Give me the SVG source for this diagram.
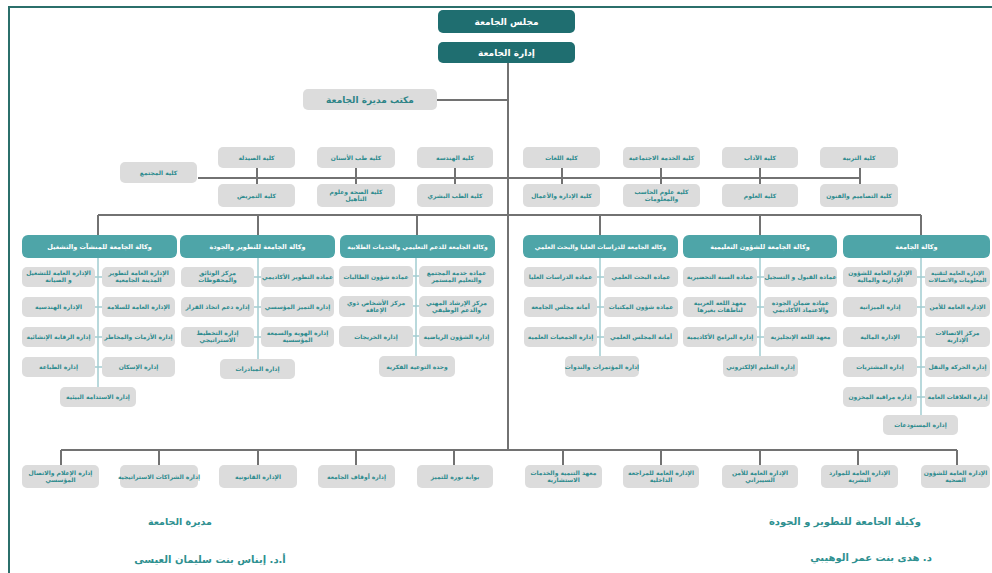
<svg xmlns="http://www.w3.org/2000/svg" width="992" height="573" viewBox="0 0 992 573">
<style>
.g{fill:#dcdcdc}
.h{fill:#4ea5a8}
.d{fill:#1f6e70}
.t{font-family:"DejaVu Sans",sans-serif;font-size:6px;font-weight:bold;fill:#2b8a8d;text-anchor:middle;direction:rtl}
.tw{fill:#ffffff;font-size:6.5px}
.tt{fill:#ffffff;font-size:9px}
.to{font-size:9px;fill:#2d8487}
.sg{font-size:10px;fill:#2e9090}
.ln{stroke:#727272;stroke-width:2;fill:none}
.sb{stroke:#a3cdd1;stroke-width:1.5;fill:none}
.bd{stroke:#2b6f6b;stroke-width:2;fill:none}
</style>
<rect width="992" height="573" fill="#ffffff"/>
<path class="bd" d="M9,573 V7 H992"/>

<g id="connectors">
<path class="ln" d="M508,63 V450 M437,100 H508"/>
<path class="ln" d="M198,178 H860 M860,168 V188 M257,168 V184 M356,168 V184 M455,168 V184 M562,168 V184 M661,168 V184 M760,168 V184"/>
<path class="ln" d="M98,215 H921 M98,215 V235 M258,215 V235 M417,215 V235 M600,215 V235 M760,215 V235 M921,215 V235"/>
<path class="ln" d="M61,450 H957 M61,450 V465 M159,450 V465 M258,450 V465 M356,450 V465 M454,450 V465 M563,450 V465 M661,450 V465 M760,450 V465 M858,450 V465 M957,450 V465"/>
<path class="sb" d="M98,258 V387 M95,277 H102 M95,307 H102 M95,337 H102 M95,367 H102"/>
<path class="sb" d="M258,258 V359 M254,277 H261 M254,307 H261 M254,337 H261"/>
<path class="sb" d="M416,258 V356 M413,276 H419 M413,306 H419 M413,336 H419"/>
<path class="sb" d="M600,258 V356 M597,277 H604 M597,307 H604 M597,337 H604"/>
<path class="sb" d="M760,258 V356 M757,277 H764 M757,307 H764 M757,337 H764"/>
<path class="sb" d="M921,258 V415 M917,277 H925 M917,307 H925 M917,337 H925 M917,367 H925 M917,397 H925"/>
</g>

<g id="council"><rect class="d" x="438" y="10" width="137" height="23" rx="5"/><text class="t tt" x="506.5" y="25">مجلس الجامعة</text></g>
<g id="admin"><rect class="d" x="438" y="42" width="137" height="21" rx="5"/><text class="t tt" x="506.5" y="56">إدارة الجامعة</text></g>
<g id="office"><rect class="g" x="303" y="89" width="134" height="21" rx="5"/><text class="t to" x="370" y="103">مكتب مديرة الجامعة</text></g>

<g id="col-community"><rect class="g" x="120" y="162" width="77" height="21" rx="5"/><text class="t" x="158.5" y="174.5">كلية المجتمع</text></g>
<g id="col-pharmacy"><rect class="g" x="218" y="147" width="77" height="21" rx="5"/><text class="t" x="256.5" y="159.5">كلية الصيدلة</text></g>
<g id="col-dentistry"><rect class="g" x="317" y="147" width="78" height="21" rx="5"/><text class="t" x="356" y="159.5">كلية طب الأسنان</text></g>
<g id="col-engineering"><rect class="g" x="417" y="147" width="76" height="21" rx="5"/><text class="t" x="455" y="159.5">كلية الهندسة</text></g>
<g id="col-nursing"><rect class="g" x="218" y="184" width="77" height="23" rx="5"/><text class="t" x="256.5" y="197.5">كلية التمريض</text></g>
<g id="col-health"><rect class="g" x="317" y="184" width="78" height="23" rx="5"/><text class="t" x="356" y="193.5">كلية الصحة وعلوم<tspan x="356" dy="7.5">التأهيل</tspan></text></g>
<g id="col-medicine"><rect class="g" x="417" y="184" width="76" height="23" rx="5"/><text class="t" x="455" y="197.5">كلية الطب البشري</text></g>
<g id="col-languages"><rect class="g" x="523" y="147" width="77" height="21" rx="5"/><text class="t" x="561.5" y="159.5">كلية اللغات</text></g>
<g id="col-social"><rect class="g" x="623" y="147" width="77" height="21" rx="5"/><text class="t" x="661.5" y="159.5">كلية الخدمة الاجتماعية</text></g>
<g id="col-arts"><rect class="g" x="722" y="147" width="76" height="21" rx="5"/><text class="t" x="760" y="159.5">كلية الآداب</text></g>
<g id="col-education"><rect class="g" x="820" y="147" width="78" height="21" rx="5"/><text class="t" x="859" y="159.5">كلية التربية</text></g>
<g id="col-business"><rect class="g" x="523" y="184" width="77" height="23" rx="5"/><text class="t" x="561.5" y="197.5">كلية الإدارة والأعمال</text></g>
<g id="col-computer"><rect class="g" x="623" y="184" width="77" height="23" rx="5"/><text class="t" x="661.5" y="193.5">كلية علوم الحاسب<tspan x="661.5" dy="7.5">والمعلومات</tspan></text></g>
<g id="col-science"><rect class="g" x="722" y="184" width="76" height="23" rx="5"/><text class="t" x="760" y="197.5">كلية العلوم</text></g>
<g id="col-design"><rect class="g" x="820" y="184" width="78" height="23" rx="5"/><text class="t" x="859" y="197.5">كلية التصاميم والفنون</text></g>

<!-- Agency 1 -->
<g id="ag1"><rect class="h" x="22" y="235" width="155" height="23" rx="6"/><text class="t tw" x="99.5" y="249">وكالة الجامعة للمنشآت والتشغيل</text></g>
<g id="ag1-r1"><rect class="g" x="102" y="267" width="73" height="20" rx="5"/><text class="t" x="138.5" y="275">الإدارة العامة لتطوير<tspan x="138.5" dy="7">المدينة الجامعية</tspan></text></g>
<g id="ag1-l1"><rect class="g" x="22" y="267" width="73" height="20" rx="5"/><text class="t" x="58.5" y="275">الإدارة العامة للتشغيل<tspan x="58.5" dy="7">و الصيانة</tspan></text></g>
<g id="ag1-r2"><rect class="g" x="102" y="297" width="73" height="20" rx="5"/><text class="t" x="138.5" y="309">الإدارة العامة للسلامة</text></g>
<g id="ag1-l2"><rect class="g" x="22" y="297" width="73" height="20" rx="5"/><text class="t" x="58.5" y="309">الإدارة الهندسية</text></g>
<g id="ag1-r3"><rect class="g" x="102" y="327" width="73" height="20" rx="5"/><text class="t" x="138.5" y="339">إدارة الأزمات والمخاطر</text></g>
<g id="ag1-l3"><rect class="g" x="22" y="327" width="73" height="20" rx="5"/><text class="t" x="58.5" y="339">إدارة الرقابة الإنشائية</text></g>
<g id="ag1-r4"><rect class="g" x="102" y="357" width="73" height="20" rx="5"/><text class="t" x="138.5" y="369">إدارة الإسكان</text></g>
<g id="ag1-l4"><rect class="g" x="22" y="357" width="73" height="20" rx="5"/><text class="t" x="58.5" y="369">إدارة الطباعة</text></g>
<g id="ag1-c"><rect class="g" x="60" y="387" width="76" height="20" rx="5"/><text class="t" x="98" y="399">إدارة الاستدامة البيئية</text></g>

<!-- Agency 2 -->
<g id="ag2"><rect class="h" x="180" y="235" width="155" height="23" rx="6"/><text class="t tw" x="257.5" y="249">وكالة الجامعة للتطوير والجودة</text></g>
<g id="ag2-r1"><rect class="g" x="261" y="267" width="73" height="20" rx="5"/><text class="t" x="297.5" y="279">عمادة التطوير الأكاديمي</text></g>
<g id="ag2-l1"><rect class="g" x="181" y="267" width="73" height="20" rx="5"/><text class="t" x="217.5" y="275">مركز الوثائق<tspan x="217.5" dy="7">والمحفوظات</tspan></text></g>
<g id="ag2-r2"><rect class="g" x="261" y="297" width="73" height="20" rx="5"/><text class="t" x="297.5" y="309">إدارة التميز المؤسسي</text></g>
<g id="ag2-l2"><rect class="g" x="181" y="297" width="73" height="20" rx="5"/><text class="t" x="217.5" y="309">إدارة دعم اتخاذ القرار</text></g>
<g id="ag2-r3"><rect class="g" x="261" y="327" width="73" height="20" rx="5"/><text class="t" x="297.5" y="335">إدارة الهوية والسمعة<tspan x="297.5" dy="7">المؤسسية</tspan></text></g>
<g id="ag2-l3"><rect class="g" x="181" y="327" width="73" height="20" rx="5"/><text class="t" x="217.5" y="335">إدارة التخطيط<tspan x="217.5" dy="7">الاستراتيجي</tspan></text></g>
<g id="ag2-c"><rect class="g" x="220" y="359" width="75" height="20" rx="5"/><text class="t" x="257.5" y="371">إدارة المبادرات</text></g>

<!-- Agency 3 -->
<g id="ag3"><rect class="h" x="340" y="235" width="155" height="23" rx="6"/><text class="t tw" x="417.5" y="249" style="font-size:6px">وكالة الجامعة للدعم التعليمي والخدمات الطلابية</text></g>
<g id="ag3-r1"><rect class="g" x="419" y="266" width="75" height="21" rx="5"/><text class="t" x="456.5" y="274.5">عمادة خدمة المجتمع<tspan x="456.5" dy="7">والتعليم المستمر</tspan></text></g>
<g id="ag3-l1"><rect class="g" x="339" y="266" width="74" height="21" rx="5"/><text class="t" x="376" y="278.5">عمادة شؤون الطالبات</text></g>
<g id="ag3-r2"><rect class="g" x="419" y="296" width="75" height="21" rx="5"/><text class="t" x="456.5" y="304.5">مركز الإرشاد المهني<tspan x="456.5" dy="7">والدعم الوظيفي</tspan></text></g>
<g id="ag3-l2"><rect class="g" x="339" y="296" width="74" height="21" rx="5"/><text class="t" x="376" y="304.5">مركز الأشخاص ذوي<tspan x="376" dy="7">الإعاقة</tspan></text></g>
<g id="ag3-r3"><rect class="g" x="419" y="326" width="75" height="21" rx="5"/><text class="t" x="456.5" y="338.5">إدارة الشؤون الرياضية</text></g>
<g id="ag3-l3"><rect class="g" x="339" y="326" width="74" height="21" rx="5"/><text class="t" x="376" y="338.5">إدارة الخريجات</text></g>
<g id="ag3-c"><rect class="g" x="379" y="356" width="76" height="21" rx="5"/><text class="t" x="417" y="368.5">وحدة التوعية الفكرية</text></g>

<!-- Agency 4 -->
<g id="ag4"><rect class="h" x="523" y="235" width="155" height="23" rx="6"/><text class="t tw" x="600.5" y="249" style="font-size:6px">وكالة الجامعة للدراسات العليا والبحث العلمي</text></g>
<g id="ag4-r1"><rect class="g" x="604" y="267" width="74" height="20" rx="5"/><text class="t" x="641" y="279">عمادة البحث العلمي</text></g>
<g id="ag4-l1"><rect class="g" x="524" y="267" width="73" height="20" rx="5"/><text class="t" x="560.5" y="279">عمادة الدراسات العليا</text></g>
<g id="ag4-r2"><rect class="g" x="604" y="297" width="74" height="20" rx="5"/><text class="t" x="641" y="309">عمادة شؤون المكتبات</text></g>
<g id="ag4-l2"><rect class="g" x="524" y="297" width="73" height="20" rx="5"/><text class="t" x="560.5" y="309">أمانة مجلس الجامعة</text></g>
<g id="ag4-r3"><rect class="g" x="604" y="327" width="74" height="20" rx="5"/><text class="t" x="641" y="339">أمانة المجلس العلمي</text></g>
<g id="ag4-l3"><rect class="g" x="524" y="327" width="73" height="20" rx="5"/><text class="t" x="560.5" y="339">إدارة الجمعيات العلمية</text></g>
<g id="ag4-c"><rect class="g" x="565" y="356" width="74" height="21" rx="5"/><text class="t" x="602" y="368.5">إدارة المؤتمرات والندوات</text></g>

<!-- Agency 5 -->
<g id="ag5"><rect class="h" x="683" y="235" width="154" height="23" rx="6"/><text class="t tw" x="760" y="249">وكالة الجامعة للشؤون التعليمية</text></g>
<g id="ag5-r1"><rect class="g" x="764" y="267" width="73" height="20" rx="5"/><text class="t" x="800.5" y="279">عمادة القبول و التسجيل</text></g>
<g id="ag5-l1"><rect class="g" x="683" y="267" width="74" height="20" rx="5"/><text class="t" x="720" y="279">عمادة السنة التحضيرية</text></g>
<g id="ag5-r2"><rect class="g" x="764" y="297" width="73" height="20" rx="5"/><text class="t" x="800.5" y="305">عمادة ضمان الجودة<tspan x="800.5" dy="7">والاعتماد الأكاديمي</tspan></text></g>
<g id="ag5-l2"><rect class="g" x="683" y="297" width="74" height="20" rx="5"/><text class="t" x="720" y="305">معهد اللغة العربية<tspan x="720" dy="7">لناطقات بغيرها</tspan></text></g>
<g id="ag5-r3"><rect class="g" x="764" y="327" width="73" height="20" rx="5"/><text class="t" x="800.5" y="339">معهد اللغة الإنجليزية</text></g>
<g id="ag5-l3"><rect class="g" x="683" y="327" width="74" height="20" rx="5"/><text class="t" x="720" y="339">إدارة البرامج الأكاديمية</text></g>
<g id="ag5-c"><rect class="g" x="723" y="356" width="75" height="21" rx="5"/><text class="t" x="760.5" y="368.5">إدارة التعليم الإلكتروني</text></g>

<!-- Agency 6 -->
<g id="ag6"><rect class="h" x="843" y="235" width="147" height="23" rx="6"/><text class="t tw" x="916.5" y="249">وكالة الجامعة</text></g>
<g id="ag6-r1"><rect class="g" x="925" y="267" width="65" height="20" rx="5"/><text class="t" x="957.5" y="275" style="font-size:5.5px">الإدارة العامة لتقنية<tspan x="957.5" dy="7">المعلومات والاتصالات</tspan></text></g>
<g id="ag6-l1"><rect class="g" x="843" y="267" width="74" height="20" rx="5"/><text class="t" x="880" y="275">الإدارة العامة للشؤون<tspan x="880" dy="7">الإدارية والمالية</tspan></text></g>
<g id="ag6-r2"><rect class="g" x="925" y="297" width="65" height="20" rx="5"/><text class="t" x="957.5" y="309">الإدارة العامة للأمن</text></g>
<g id="ag6-l2"><rect class="g" x="843" y="297" width="74" height="20" rx="5"/><text class="t" x="880" y="309">إدارة الميزانية</text></g>
<g id="ag6-r3"><rect class="g" x="925" y="327" width="65" height="20" rx="5"/><text class="t" x="957.5" y="335">مركز الاتصالات<tspan x="957.5" dy="7">الإدارية</tspan></text></g>
<g id="ag6-l3"><rect class="g" x="843" y="327" width="74" height="20" rx="5"/><text class="t" x="880" y="339">الإدارة المالية</text></g>
<g id="ag6-r4"><rect class="g" x="925" y="357" width="65" height="20" rx="5"/><text class="t" x="957.5" y="369">إدارة الحركة والنقل</text></g>
<g id="ag6-l4"><rect class="g" x="843" y="357" width="74" height="20" rx="5"/><text class="t" x="880" y="369">إدارة المشتريات</text></g>
<g id="ag6-r5"><rect class="g" x="925" y="387" width="65" height="20" rx="5"/><text class="t" x="957.5" y="399">إدارة العلاقات العامة</text></g>
<g id="ag6-l5"><rect class="g" x="843" y="387" width="74" height="20" rx="5"/><text class="t" x="880" y="399">إدارة مراقبة المخزون</text></g>
<g id="ag6-c"><rect class="g" x="883" y="415" width="75" height="20" rx="5"/><text class="t" x="920.5" y="427">إدارة المستودعات</text></g>

<!-- Bottom row -->
<g id="b1"><rect class="g" x="22" y="465" width="77" height="23" rx="5"/><text class="t" x="60.5" y="474.5">إدارة الإعلام والاتصال<tspan x="60.5" dy="7.5">المؤسسي</tspan></text></g>
<g id="b2"><rect class="g" x="120" y="465" width="78" height="23" rx="5"/><text class="t" x="159" y="478.5">إدارة الشراكات الاستراتيجية</text></g>
<g id="b3"><rect class="g" x="219" y="465" width="78" height="23" rx="5"/><text class="t" x="258" y="478.5">الإدارة القانونية</text></g>
<g id="b4"><rect class="g" x="318" y="465" width="77" height="23" rx="5"/><text class="t" x="356.5" y="478.5">إدارة أوقاف الجامعة</text></g>
<g id="b5"><rect class="g" x="417" y="465" width="76" height="23" rx="5"/><text class="t" x="455" y="478.5">بوابة نورة للتميز</text></g>
<g id="b6"><rect class="g" x="525" y="465" width="77" height="23" rx="5"/><text class="t" x="563.5" y="474.5">معهد التنمية والخدمات<tspan x="563.5" dy="7.5">الاستشارية</tspan></text></g>
<g id="b7"><rect class="g" x="623" y="465" width="76" height="23" rx="5"/><text class="t" x="661" y="474.5">الإدارة العامة للمراجعة<tspan x="661" dy="7.5">الداخلية</tspan></text></g>
<g id="b8"><rect class="g" x="722" y="465" width="76" height="23" rx="5"/><text class="t" x="760" y="474.5">الإدارة العامة للأمن<tspan x="760" dy="7.5">السيبراني</tspan></text></g>
<g id="b9"><rect class="g" x="821" y="465" width="77" height="23" rx="5"/><text class="t" x="859.5" y="474.5">الإدارة العامة للموارد<tspan x="859.5" dy="7.5">البشرية</tspan></text></g>
<g id="b10"><rect class="g" x="921" y="465" width="69" height="23" rx="5"/><text class="t" x="955.5" y="474.5">الإدارة العامة للشؤون<tspan x="955.5" dy="7.5">الصحية</tspan></text></g>

<g id="signatures">
<text class="t sg" x="180" y="525" style="font-size:9.5px">مديرة الجامعة</text>
<text class="t sg" x="210" y="563">أ.د. إيناس بنت سليمان العيسى</text>
<text class="t sg" x="845" y="525">وكيلة الجامعة للتطوير و الجودة</text>
<text class="t sg" x="871" y="561">د. هدى بنت عمر الوهيبي</text>
</g>
</svg>
